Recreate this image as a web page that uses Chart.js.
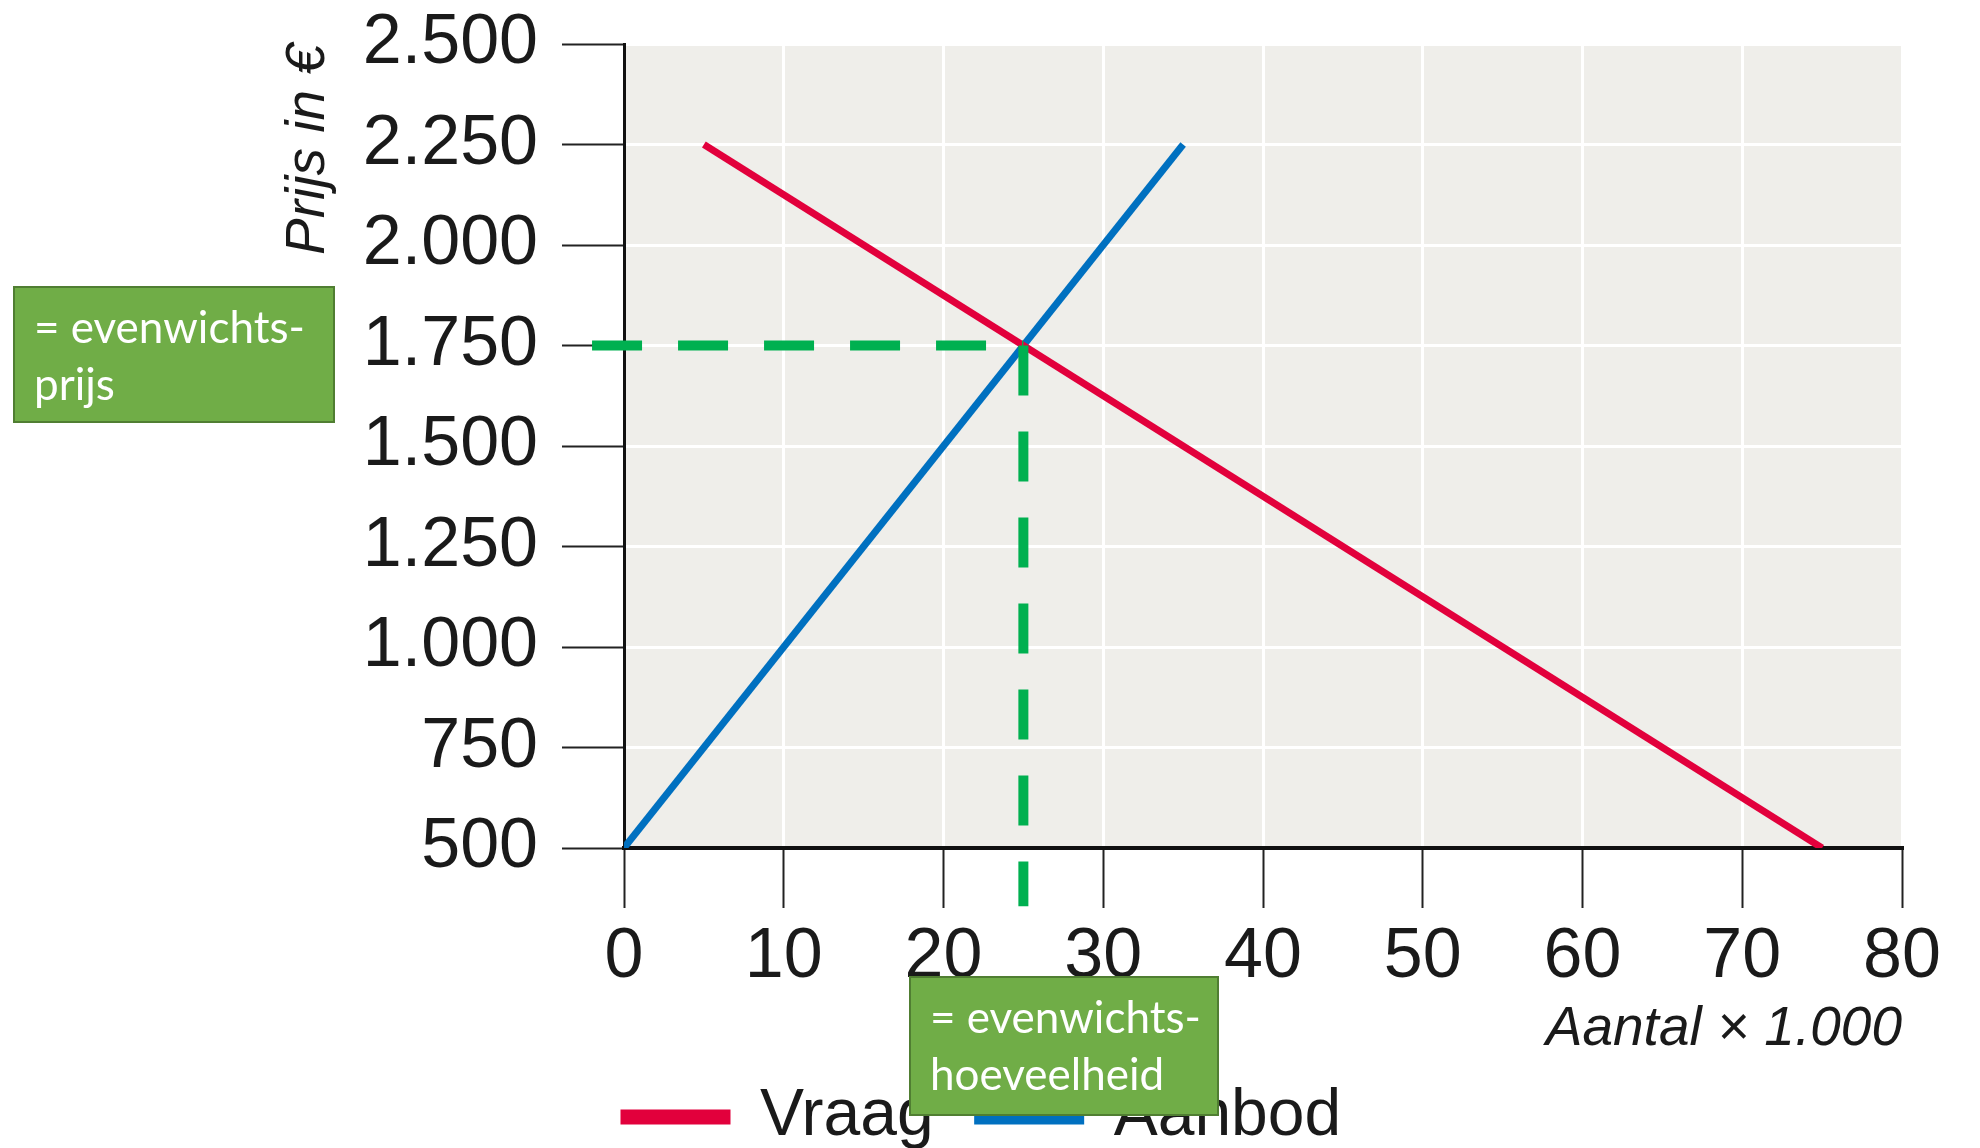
<!DOCTYPE html>
<html>
<head>
<meta charset="utf-8">
<script src="https://cdn.jsdelivr.net/npm/chart.js@4.4.0/dist/chart.umd.min.js"></script>
<style>
  html, body { margin: 0; padding: 0; background: #fff; }
  #wrap { width: 1980px; height: 1148px; }
</style>
</head>
<body>
<div id="wrap"><canvas id="chart"></canvas></div>
<script>
// Axis ticks
const aantalTicks = [0, 10, 20, 30, 40, 50, 60, 70, 80];
const prijsTicks = [500, 750, 1000, 1250, 1500, 1750, 2000, 2250, 2500];
const prijsTickLabels = ['500', '750', '1.000', '1.250', '1.500', '1.750', '2.000', '2.250', '2.500'];

// Vraag (demand) and aanbod (supply) lines
const vraagAantal = [5, 75];
const vraagPrijs = [2250, 500];
const aanbodAantal = [0, 35];
const aanbodPrijs = [500, 2250];

// Evenwicht guide lines (dashed)
const evenwichtPrijsAantal = [-2, 25];
const evenwichtPrijsPrijs = [1750, 1750];
const evenwichtAantalAantal = [25, 25];
const evenwichtAantalPrijs = [1750, 355];

const toPoints = (xs, ys) => xs.map((x, i) => ({ x, y: ys[i] }));

const RED = '#e2003c';
const BLUE = '#0070c0';
const GREEN = '#00b050';
const INK = '#1a1a1a';
const SANS = '"Liberation Sans", Arial, sans-serif';
const TICK_FONT = { family: SANS, size: 70 };

// plot background
const plotBackground = {
  id: 'plotBackground',
  beforeDraw(chart) {
    const { ctx, chartArea: a } = chart;
    ctx.save();
    ctx.fillStyle = '#efeeea';
    ctx.fillRect(a.left, a.top, a.right - a.left, a.bottom - a.top);
    ctx.restore();
  },
};

// legend sits flush with the y axis, a bit lower
const legendShift = {
  id: 'legendShift',
  afterLayout(chart) {
    const lg = chart.legend;
    const pad = lg.options.labels.padding;
    lg.left -= pad;
    lg.right -= pad;
    lg.top += 12;
    lg.bottom += 12;
  },
};

// green label boxes
const labelBoxes = {
  id: 'labelBoxes',
  afterDraw(chart, args, opts) {
    const { ctx } = chart;
    ctx.save();
    opts.boxes.forEach((b) => {
      ctx.fillStyle = '#70ad47';
      ctx.fillRect(b.x, b.y, b.w, b.h);
      ctx.strokeStyle = '#507e32';
      ctx.lineWidth = 2;
      ctx.strokeRect(b.x, b.y, b.w, b.h);
      ctx.fillStyle = '#fff';
      ctx.font = '44px Lato, "Open Sans", sans-serif';
      ctx.textBaseline = 'middle';
      b.lines.forEach((t, i) => ctx.fillText(t, b.x + 20, b.y + 42 + i * 57));
    });
    ctx.restore();
  },
};

const noOverflow = (s) => {
  s.paddingTop = 0;
  s.paddingBottom = 0;
  s.paddingLeft = 0;
  s.paddingRight = 0;
};

const ctx = document.getElementById('chart');
const chart = new Chart(ctx, {
  type: 'scatter',
  data: {
    datasets: [
      {
        label: 'evenwichtsprijs',
        data: toPoints(evenwichtPrijsAantal, evenwichtPrijsPrijs),
        showLine: true,
        borderColor: GREEN,
        borderWidth: 10,
        borderDash: [50, 36],
        pointRadius: 0,
        clip: false,
      },
      {
        label: 'evenwichtshoeveelheid',
        data: toPoints(evenwichtAantalAantal, evenwichtAantalPrijs),
        showLine: true,
        borderColor: GREEN,
        borderWidth: 10,
        borderDash: [50, 36],
        pointRadius: 0,
        clip: false,
      },
      {
        label: 'Vraag',
        data: toPoints(vraagAantal, vraagPrijs),
        showLine: true,
        borderColor: RED,
        backgroundColor: RED,
        borderWidth: 7,
        pointRadius: 0,
      },
      {
        label: 'Aanbod',
        data: toPoints(aanbodAantal, aanbodPrijs),
        showLine: true,
        borderColor: BLUE,
        backgroundColor: BLUE,
        borderWidth: 7,
        pointRadius: 0,
      },
    ],
  },
  options: {
    responsive: true,
    maintainAspectRatio: false,
    devicePixelRatio: 1,
    animation: false,
    layout: {
      padding: { top: 44, right: 78, bottom: 0, left: 0 },
    },
    scales: {
      x: {
        type: 'linear',
        min: 0,
        max: 80,
        afterBuildTicks: (s) => { s.ticks = aantalTicks.map((v) => ({ value: v })); },
        afterFit: (s) => { s.height = 180; noOverflow(s); },
        grid: {
          color: '#ffffff',
          lineWidth: 3,
          tickColor: '#222',
          tickWidth: 2,
          tickLength: 60,
        },
        border: { color: '#111', width: 4 },
        ticks: {
          font: TICK_FONT,
          color: INK,
          padding: 8,
          maxRotation: 0,
          autoSkip: false,
        },
        title: {
          display: true,
          text: 'Aantal × 1.000',
          align: 'end',
          color: INK,
          font: { family: SANS, size: 55, style: 'italic' },
          padding: { top: 0, bottom: -35 },
        },
      },
      y: {
        type: 'linear',
        min: 500,
        max: 2500,
        afterBuildTicks: (s) => { s.ticks = prijsTicks.map((v) => ({ value: v })); },
        afterFit: (s) => { s.width = 624; noOverflow(s); },
        grid: {
          color: '#ffffff',
          lineWidth: 3,
          tickColor: '#222',
          tickWidth: 2,
          tickLength: 62,
        },
        border: { color: '#111', width: 3 },
        ticks: {
          font: TICK_FONT,
          color: INK,
          padding: 24,
          autoSkip: false,
          callback: (value) => prijsTickLabels[prijsTicks.indexOf(value)],
        },
        title: {
          display: true,
          text: 'Prijs in €',
          align: 'end',
          color: INK,
          font: { family: SANS, size: 55, style: 'italic' },
          padding: { top: 276, bottom: 0 },
        },
      },
    },
    plugins: {
      legend: {
        display: true,
        position: 'bottom',
        align: 'start',
        fullSize: false,
        labels: {
          filter: (item) => item.text === 'Vraag' || item.text === 'Aanbod',
          boxWidth: 103,
          boxHeight: 8,
          padding: 44,
          color: INK,
          font: { family: SANS, size: 66 },
        },
      },
      tooltip: { enabled: false },
      labelBoxes: {
        boxes: [
          { x: 14, y: 287, w: 320, h: 135, lines: ['= evenwichts-', 'prijs'] },
          { x: 910, y: 977, w: 308, h: 138, lines: ['= evenwichts-', 'hoeveelheid'] },
        ],
      },
    },
  },
  plugins: [plotBackground, legendShift, labelBoxes],
});
</script>
</body>
</html>
